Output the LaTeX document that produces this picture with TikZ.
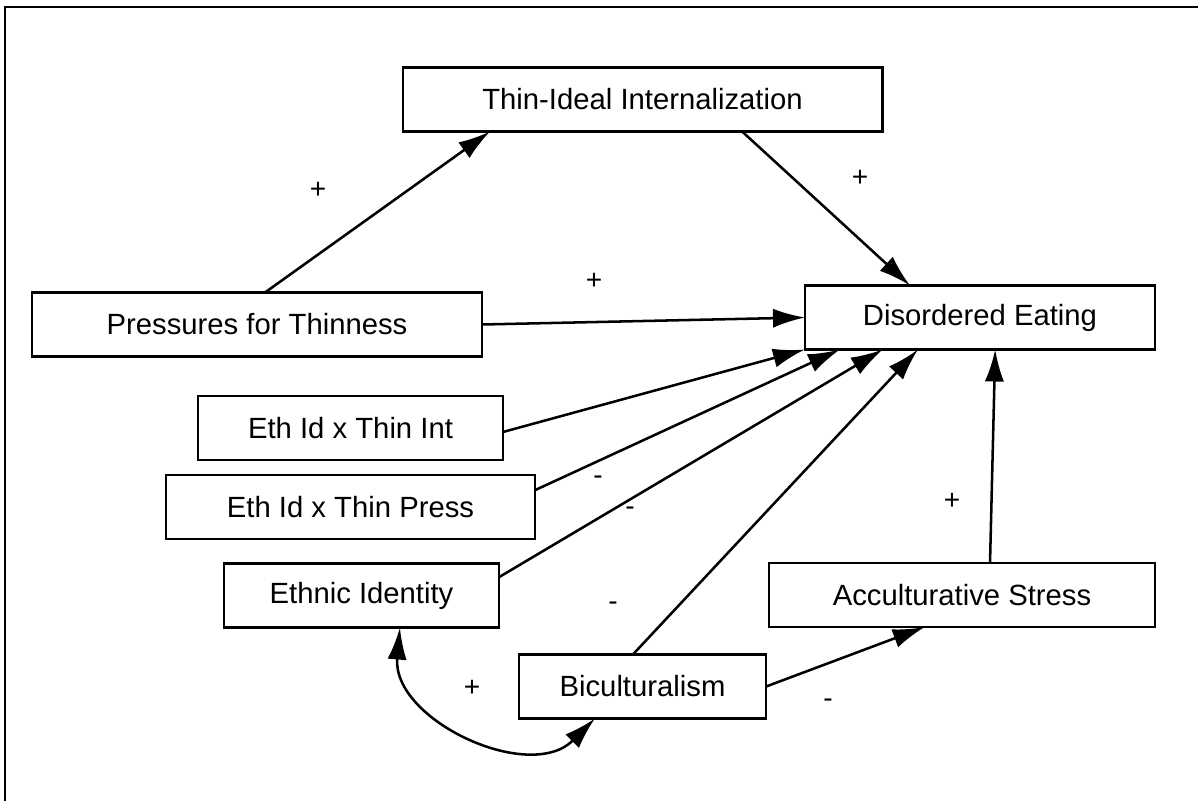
\documentclass[tikz,border=0pt]{standalone}
\usepackage{fontspec}
\setmainfont{Liberation Sans}
\usetikzlibrary{arrows.meta}
\begin{document}
\begin{tikzpicture}[x=0.025cm, y=-0.025cm,
	varbox/.style={draw, line width=1.9pt, inner sep=0pt, outer sep=0pt, minimum height=1.6cm, font=\fontsize{20.8}{24}\selectfont},
	sign/.style={font=\fontsize{20}{24}\selectfont, inner sep=0pt},
	path/.style={line width=1.8pt, -{Latex[length=0.8cm,width=0.48cm]}}]
					\useasboundingbox (0,0) rectangle (1198,801);
					\draw[line width=1.9pt] (5,801) -- (5,7) -- (1198,7);
					% the variables
					\node[varbox, minimum width=11.98cm] (thin) at (642.5,99.5) {Thin-Ideal Internalization};
					\node[varbox, minimum width=11.25cm] (press) at (257,324.5) {Pressures for Thinness};
					\node[varbox, minimum width=8.75cm] (diseat) at (980,317.5) {Disordered Eating};
					\node[varbox, minimum width=7.62cm] (ethint) at (350.5,428) {Eth Id x Thin Int};
					\node[varbox, minimum width=9.22cm] (ethpress) at (350.5,507) {Eth Id x Thin Press};
					\node[varbox, minimum width=6.88cm] (ethid) at (361.5,595.5) {Ethnic Identity};
					\node[varbox, minimum width=9.65cm] (accult) at (962,595) {Acculturative Stress};
					\node[varbox, minimum width=6.18cm] (bicult) at (642.5,686.5) {Biculturalism};
					% the paths
					\draw[path] ([xshift=0.2cm]press.north) -- ([xshift=-3.81cm]thin.south);
					\draw[path] ([xshift=2.49cm]thin.south) -- ([xshift=-1.75cm]diseat.north);
					\draw[path] (press.east) -- (diseat.west);
					\draw[path] ([yshift=-0.1cm]ethint.east) -- (diseat.south west);
					\draw[path] ([yshift=0.42cm]ethpress.east) -- ([xshift=-3.5cm]diseat.south);
					\draw[path] ([yshift=0.46cm]ethid.east) -- ([xshift=-2.43cm]diseat.south);
					\draw[path] ([xshift=-0.24cm]bicult.north) -- ([xshift=-1.55cm]diseat.south);
					\draw[path] ([xshift=0.7cm]accult.north) -- ([xshift=0.38cm]diseat.south);
					\draw[path] (bicult.east) -- ([xshift=-0.93cm]accult.south);
					\draw[path, {Latex[length=0.8cm,width=0.48cm]}-{Latex[length=0.8cm,width=0.48cm]}] ([xshift=0.96cm]ethid.south) to[out=-95, in=-135, looseness=1.1] ([xshift=-1.19cm]bicult.south);
					% the signs
					\node[sign] (s1) at (318,190) {+};
					\node[sign] (s2) at (860,178) {+};
					\node[sign] (s3) at (594,281) {+};
					\node[sign] (s4) at (598,480) {-};
					\node[sign] (s5) at (630,511) {-};
					\node[sign] (s6) at (613,606) {-};
					\node[sign] (s7) at (952,501) {+};
					\node[sign] (s8) at (472,688) {+};
					\node[sign] (s9) at (828,703) {-};
				\end{tikzpicture}
\end{document}
